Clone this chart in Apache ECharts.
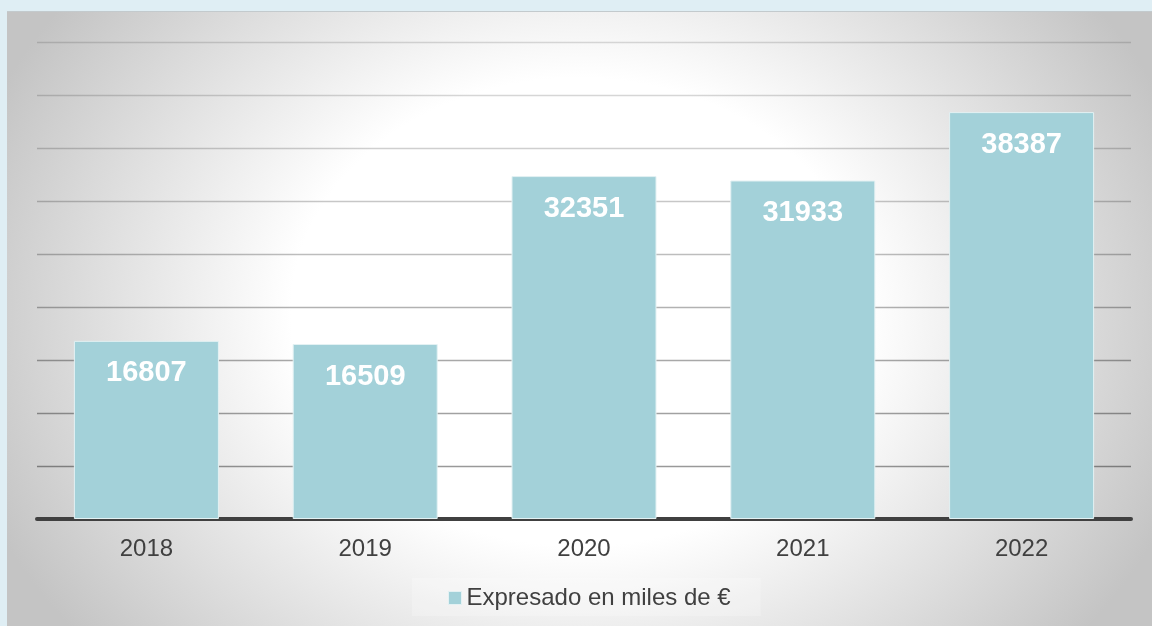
<!DOCTYPE html>
<html>
<head>
<meta charset="utf-8">
<script src="https://cdn.jsdelivr.net/npm/echarts@6/dist/echarts.min.js"></script>
<style>
  html, body { margin: 0; padding: 0; width: 1152px; height: 626px; overflow: hidden; background: #dfeef4; }
  #panel {
    position: absolute; left: 7px; top: 11px; width: 1145px; height: 615px;
    box-sizing: border-box; border-top: 1px solid #c3cacd;
    background: radial-gradient(ellipse 640px 520px at 572px 300px, #ffffff 0%, #ffffff 45%, #c4c4c4 100%);
  }
  #chart { position: absolute; left: 0; top: 0; width: 1152px; height: 626px; }
</style>
</head>
<body>
<div id="panel"></div>
<div id="chart"></div>
<script>
const categories = ['2018', '2019', '2020', '2021', '2022'];
const values = [16807, 16509, 32351, 31933, 38387];
const seriesName = 'Expresado en miles de €';

const chart = echarts.init(document.getElementById('chart'), null, { renderer: 'canvas' });
const FONT = '"Liberation Sans", Arial, sans-serif';

chart.setOption({
  backgroundColor: 'transparent',
  animation: false,
  textStyle: { fontFamily: FONT },
  grid: { left: 37, right: 21, top: 42, bottom: 107, containLabel: false },
  legend: {
    data: [seriesName],
    left: 412, top: 578,
    padding: [8, 30, 6, 36],
    backgroundColor: 'rgba(255,255,255,0.22)',
    itemWidth: 13, itemHeight: 13, itemGap: 5,
    icon: 'rect',
    itemStyle: { borderColor: '#e3f1f3', borderWidth: 1 },
    textStyle: { fontSize: 24, color: '#404040', fontFamily: FONT }
  },
  xAxis: {
    type: 'category',
    data: categories,
    axisLine: { show: true, lineStyle: { color: '#404040', width: 4 } },
    axisTick: { show: false },
    axisLabel: { fontSize: 24, color: '#404040', margin: 18, fontFamily: FONT },
    splitLine: { show: false }
  },
  yAxis: {
    type: 'value',
    min: 0, max: 45000, interval: 5000,
    axisLine: { show: false },
    axisTick: { show: false },
    axisLabel: { show: false },
    splitLine: {
      show: true,
      lineStyle: {
        width: 1.3,
        color: ['rgba(0,0,0,0.42)', 'rgba(0,0,0,0.40)', 'rgba(0,0,0,0.37)', 'rgba(0,0,0,0.34)',
                'rgba(0,0,0,0.30)', 'rgba(0,0,0,0.26)', 'rgba(0,0,0,0.22)', 'rgba(0,0,0,0.19)',
                'rgba(0,0,0,0.16)', 'rgba(0,0,0,0.14)']
      }
    }
  },
  series: [{
    name: seriesName,
    type: 'bar',
    data: values,
    barWidth: 145,
    itemStyle: { color: '#a3d1d9', borderColor: '#e3f1f3', borderWidth: 1 },
    label: {
      show: true,
      position: 'insideTop',
      distance: 18,
      color: '#ffffff',
      fontSize: 29,
      fontWeight: 'bold',
      fontFamily: FONT
    }
  }]
});
</script>
</body>
</html>
